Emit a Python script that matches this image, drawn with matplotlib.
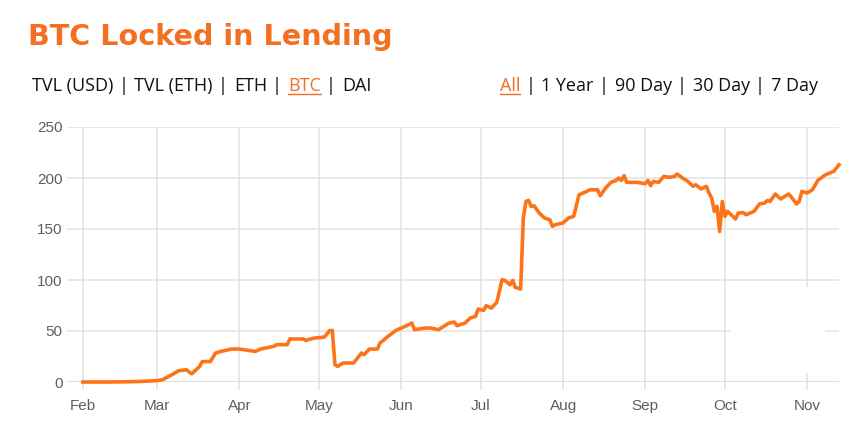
import numpy as np
import pandas as pd
import matplotlib
matplotlib.use('Agg')
import matplotlib.pyplot as plt
import matplotlib.dates as mdates
from matplotlib.patches import Rectangle

# BTC locked in lending, 2019
dates = ['2019-02-01', '2019-02-10', '2019-02-20', '2019-02-23', '2019-02-26', '2019-03-01',
         '2019-03-03', '2019-03-07', '2019-03-09', '2019-03-12', '2019-03-14', '2019-03-17',
         '2019-03-18', '2019-03-21', '2019-03-23', '2019-03-25', '2019-03-29', '2019-04-01',
         '2019-04-07', '2019-04-09', '2019-04-14', '2019-04-15', '2019-04-19', '2019-04-20',
         '2019-04-25', '2019-04-26', '2019-04-29', '2019-05-03', '2019-05-05', '2019-05-06',
         '2019-05-07', '2019-05-08', '2019-05-10', '2019-05-14', '2019-05-17', '2019-05-18',
         '2019-05-20', '2019-05-23', '2019-05-24', '2019-05-27', '2019-05-30', '2019-06-03',
         '2019-06-05', '2019-06-06', '2019-06-10', '2019-06-12', '2019-06-15', '2019-06-19',
         '2019-06-21', '2019-06-22', '2019-06-25', '2019-06-27', '2019-06-29', '2019-06-30',
         '2019-07-02', '2019-07-03', '2019-07-05', '2019-07-07', '2019-07-09', '2019-07-10',
         '2019-07-12', '2019-07-13', '2019-07-14', '2019-07-16', '2019-07-17', '2019-07-18',
         '2019-07-19', '2019-07-20', '2019-07-21', '2019-07-23', '2019-07-25', '2019-07-27',
         '2019-07-28', '2019-07-29', '2019-08-01', '2019-08-03', '2019-08-05', '2019-08-07',
         '2019-08-10', '2019-08-11', '2019-08-14', '2019-08-15', '2019-08-17', '2019-08-19',
         '2019-08-21', '2019-08-22', '2019-08-23', '2019-08-24', '2019-08-25', '2019-08-29',
         '2019-09-01', '2019-09-02', '2019-09-03', '2019-09-04', '2019-09-06', '2019-09-08',
         '2019-09-10', '2019-09-12', '2019-09-13', '2019-09-15', '2019-09-17', '2019-09-19',
         '2019-09-20', '2019-09-22', '2019-09-24', '2019-09-25', '2019-09-26', '2019-09-27',
         '2019-09-28', '2019-09-29', '2019-09-30', '2019-10-01', '2019-10-02', '2019-10-05',
         '2019-10-06', '2019-10-08', '2019-10-09', '2019-10-12', '2019-10-14', '2019-10-16',
         '2019-10-17', '2019-10-18', '2019-10-20', '2019-10-22', '2019-10-25', '2019-10-26',
         '2019-10-28', '2019-10-29', '2019-10-30', '2019-11-01', '2019-11-03', '2019-11-05',
         '2019-11-07', '2019-11-08', '2019-11-10', '2019-11-11', '2019-11-13']
btc = [0.0, 0.0, 0.3, 0.6, 1.0, 1.3,
       2.2, 7.8, 11.0, 12.0, 8.0, 15.3,
       20.0, 20.0, 28.4, 30.0, 32.3, 32.3,
       30.0, 32.3, 35.0, 36.6, 36.6, 42.2,
       42.2, 40.8, 43.0, 44.0, 50.3, 50.6,
       17.0, 15.3, 18.6, 18.6, 28.4, 26.8,
       32.3, 32.3, 38.2, 44.7, 50.6, 55.2,
       57.8, 51.3, 52.9, 52.9, 51.3, 57.8,
       58.8, 55.2, 57.8, 62.7, 64.3, 71.6,
       70.2, 74.8, 72.5, 78.0, 100.3, 99.6,
       95.4, 99.6, 92.7, 91.2, 160.8, 177.0,
       178.0, 172.0, 172.8, 165.7, 160.8, 159.0,
       152.5, 154.2, 155.9, 160.8, 162.4, 183.6,
       186.9, 188.5, 188.5, 182.6, 190.1, 195.7,
       197.6, 200.0, 197.6, 202.3, 195.7, 195.7,
       194.4, 197.6, 192.5, 196.7, 195.7, 201.6,
       200.6, 201.6, 203.9, 200.0, 196.7, 191.8,
       193.4, 189.2, 191.8, 185.3, 180.4, 167.3,
       172.2, 147.6, 177.0, 162.4, 167.3, 159.8,
       165.7, 166.0, 164.0, 167.3, 174.5, 175.5,
       178.0, 177.0, 184.3, 179.4, 184.3, 181.4,
       174.5, 177.0, 186.9, 185.3, 188.5, 197.6,
       201.6, 203.2, 205.5, 206.5, 213.0]

month_ticks = ['2019-02-01', '2019-03-01', '2019-04-01', '2019-05-01', '2019-06-01',
               '2019-07-01', '2019-08-01', '2019-09-01', '2019-10-01', '2019-11-01']
y_ticks = [0, 50, 100, 150, 200, 250]

left_menu = ['TVL (USD)', 'TVL (ETH)', 'ETH', 'BTC', 'DAI']
right_menu = ['All', '1 Year', '90 Day', '30 Day', '7 Day']

ORANGE = '#fd7418'
TITLE_ORANGE = '#f36f21'
W, H = 861, 421

df = pd.DataFrame({'date': pd.to_datetime(dates), 'btc': btc})

fig = plt.figure(figsize=(W / 100, H / 100), dpi=100)
ax = fig.add_axes([67 / W, 1 - 382 / H, (839 - 67) / W, (382 - 127) / H])

ax.plot(df['date'], df['btc'], color=ORANGE, lw=2.6, solid_joinstyle='round', zorder=3, clip_on=False)

ax.set_xlim(pd.Timestamp('2019-01-26'), df['date'].iloc[-1])
ax.set_ylim(0, 250)
ax.set_xticks(pd.to_datetime(month_ticks))
ax.xaxis.set_major_formatter(mdates.DateFormatter('%b'))
ax.set_yticks(y_ticks)

ax.grid(True, color='#e2e2e2', lw=1.1, zorder=0)
for s in ax.spines.values():
    s.set_visible(False)
ax.axhline(0, color='#c8c8c8', lw=1.1, zorder=1)
ax.tick_params(axis='x', length=6, width=1.1, color='#e2e2e2', pad=6,
               labelsize=11, labelcolor='#5f5f5f')
ax.tick_params(axis='y', length=0, pad=3, labelsize=11, labelcolor='#5f5f5f')
for lab in ax.get_xticklabels() + ax.get_yticklabels():
    lab.set_fontfamily('Liberation Sans')

# white box that hides part of the grid in the original screenshot
ax.add_patch(Rectangle((730, H - 373), 95, 86, transform=None, facecolor='white',
                       edgecolor='none', zorder=2))

fig.text(28 / W, 1 - 37 / H, 'BTC Locked in Lending', color=TITLE_ORANGE,
         fontsize=20.6, fontweight='bold', family='DejaVu Sans', va='center', ha='left')


def draw_menu(items, active, x0, y):
    # text items separated by "|" with ~10px gaps, active item orange + underlined
    renderer = fig.canvas.get_renderer()
    x = x0
    for i, item in enumerate(items):
        color = TITLE_ORANGE if item == active else '#111111'
        t = fig.text(x / W, 1 - y / H, item, color=color, fontsize=13,
                     family='Open Sans', va='center', ha='left')
        bb = t.get_window_extent(renderer)
        if item == active:
            fig.add_artist(plt.Line2D([bb.x0 / W, bb.x1 / W], [(H - y - 8) / H] * 2,
                                      color=color, lw=1))
        if i < len(items) - 1:
            fig.text((bb.x1 + 10) / W, 1 - y / H, '|', color='#111111', fontsize=13,
                     family='Open Sans', va='center', ha='center')
            x = bb.x1 + 21


draw_menu(left_menu, 'BTC', 32, 86)
draw_menu(right_menu, 'All', 500, 86)

fig.savefig('out.png', dpi=100, facecolor='white')
